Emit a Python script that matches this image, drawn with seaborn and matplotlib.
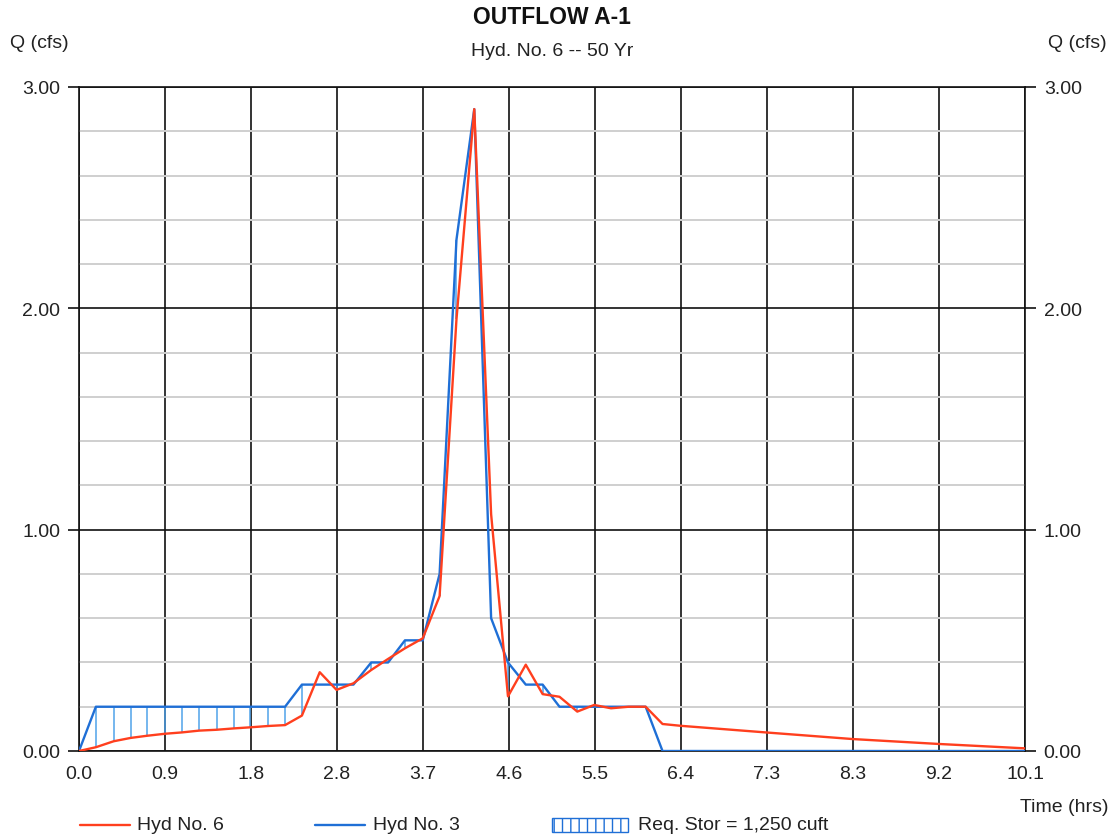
import numpy as np
import pandas as pd
import matplotlib
matplotlib.use("Agg")
import matplotlib.pyplot as plt
import seaborn as sns
from matplotlib.lines import Line2D
from matplotlib.patches import Rectangle
from matplotlib.ticker import MultipleLocator, FixedLocator

# ---------------- data ----------------
time_hrs = [0.00, 0.18, 0.37, 0.55, 0.73, 0.92, 1.10, 1.28, 1.47, 1.65,
            1.83, 2.02, 2.20, 2.38, 2.57, 2.75, 2.93, 3.12, 3.30, 3.48,
            3.67, 3.85, 4.03, 4.22, 4.40, 4.58, 4.77, 4.95, 5.13, 5.32,
            5.50, 5.68, 5.87, 6.05, 6.23]

hyd3_q = [0.00, 0.20, 0.20, 0.20, 0.20, 0.20, 0.20, 0.20, 0.20, 0.20,
          0.20, 0.20, 0.20, 0.30, 0.30, 0.30, 0.30, 0.40, 0.40, 0.50,
          0.50, 0.80, 2.31, 2.90, 0.60, 0.40, 0.30, 0.30, 0.20, 0.20,
          0.20, 0.20, 0.20, 0.20, 0.00]

hyd6_q = [0.000, 0.017, 0.044, 0.059, 0.069, 0.078, 0.084, 0.092, 0.096, 0.102,
          0.107, 0.113, 0.117, 0.160, 0.356, 0.276, 0.306, 0.366, 0.416, 0.464,
          0.509, 0.700, 1.950, 2.900, 1.070, 0.247, 0.390, 0.257, 0.245, 0.178,
          0.208, 0.193, 0.200, 0.200, 0.122]

tail_time_hyd6 = [6.42, 7.33, 8.26, 9.17, 10.10]
tail_q_hyd6 = [0.114, 0.084, 0.054, 0.032, 0.012]
tail_time_hyd3 = [10.10]
tail_q_hyd3 = [0.00]

x_tick_labels = ["0.0", "0.9", "1.8", "2.8", "3.7", "4.6", "5.5", "6.4",
                 "7.3", "8.3", "9.2", "10.1"]
y_tick_labels = ["0.00", "1.00", "2.00", "3.00"]

title = "OUTFLOW A-1"
subtitle = "Hyd. No. 6 -- 50 Yr"
legend_labels = ["Hyd No. 6", "Hyd No. 3", "Req. Stor = 1,250 cuft"]

# ---------------- style ----------------
sns.set_theme(style="white")
plt.rcParams["font.family"] = ["Liberation Sans", "DejaVu Sans"]
plt.rcParams["hatch.linewidth"] = 1.0

RED = "#FF3F1E"
BLUE = "#1F6FD6"
HATCH_BLUE = "#4FA3EA"
GRID_MINOR = "#CFCFCF"
FS = 14

fig = plt.figure(figsize=(11.12, 8.37), dpi=100)
ax = fig.add_axes([79 / 1112, 1 - 752 / 837, (1025 - 79) / 1112, (752 - 88) / 837])

df6 = pd.DataFrame({"Time": time_hrs + tail_time_hyd6, "Q": hyd6_q + tail_q_hyd6})
df3 = pd.DataFrame({"Time": time_hrs + tail_time_hyd3, "Q": hyd3_q + tail_q_hyd3})

# storage hatching: vertical lines where inflow exceeds outflow
t_arr = np.array(time_hrs)
h3 = np.array(hyd3_q)
h6 = np.array(hyd6_q)
mask = h3 > h6
ax.vlines(t_arr[mask], h6[mask], h3[mask], color=HATCH_BLUE, lw=1.1, zorder=3)

sns.lineplot(data=df3, x="Time", y="Q", ax=ax, color=BLUE, lw=1.7,
             estimator=None, sort=False, zorder=4)
sns.lineplot(data=df6, x="Time", y="Q", ax=ax, color=RED, lw=1.7,
             estimator=None, sort=False, zorder=5)

ax.set_xlim(0, 10.1)
ax.set_ylim(0, 3.0)

xticks = np.linspace(0, 10.1, len(x_tick_labels))
ax.xaxis.set_major_locator(FixedLocator(xticks))
ax.set_xticklabels(x_tick_labels)
ax.yaxis.set_major_locator(FixedLocator([0, 1, 2, 3]))
ax.set_yticklabels(y_tick_labels)
ax.yaxis.set_minor_locator(MultipleLocator(0.2))

ax.grid(False)
ax.grid(which="minor", axis="y", color=GRID_MINOR, lw=1.4, zorder=1)
ax.grid(which="major", axis="y", color="#111111", lw=1.2, zorder=2)
ax.grid(which="major", axis="x", color="#111111", lw=1.2, zorder=2)
ax.set_axisbelow(True)

for s in ax.spines.values():
    s.set_visible(True)
    s.set_color("#111111")
    s.set_linewidth(1.2)

ax.tick_params(axis="y", which="major", direction="out", length=8, width=1.2,
               color="#111111", left=True, right=True, labelleft=True,
               labelright=True, labelsize=FS, pad=5.5)
ax.tick_params(axis="y", which="minor", length=0)
ax.tick_params(axis="x", which="major", length=0, labelsize=FS, pad=10)
for lab in ax.get_xticklabels() + ax.get_yticklabels():
    lab.set_color("#222222")
ax.set_xlabel("")
ax.set_ylabel("")

# titles and axis captions
fig.text(552 / 1112, 1 - 18 / 837, title, ha="center", va="center",
         fontsize=16.5, fontweight="bold", color="#111111")
fig.text(552 / 1112, 1 - 52 / 837, subtitle, ha="center", va="center",
         fontsize=FS, color="#222222")
fig.text(10 / 1112, 1 - 43 / 837, "Q (cfs)", ha="left", va="center",
         fontsize=FS, color="#222222")
fig.text(1107 / 1112, 1 - 43 / 837, "Q (cfs)", ha="right", va="center",
         fontsize=FS, color="#222222")
fig.text(1108 / 1112, 1 - 808 / 837, "Time (hrs)", ha="right", va="center",
         fontsize=FS, color="#222222")

# legend (bottom row)
ly = 1 - 826 / 837
fig.add_artist(Line2D([80 / 1112, 130 / 1112], [ly, ly], color=RED, lw=1.7,
                      transform=fig.transFigure))
fig.text(137 / 1112, ly, legend_labels[0], ha="left", va="center",
         fontsize=FS, color="#222222")
fig.add_artist(Line2D([315 / 1112, 365 / 1112], [ly, ly], color=BLUE, lw=1.7,
                      transform=fig.transFigure))
fig.text(373 / 1112, ly, legend_labels[1], ha="left", va="center",
         fontsize=FS, color="#222222")
fig.add_artist(Rectangle((552 / 1112, 1 - 833 / 837), 76 / 1112, 14 / 837,
                         transform=fig.transFigure, facecolor="white",
                         edgecolor=BLUE, hatch="||", lw=1.0))
fig.text(638 / 1112, ly, legend_labels[2], ha="left", va="center",
         fontsize=FS, color="#222222")

fig.savefig("out.png", dpi=100, facecolor="white")
